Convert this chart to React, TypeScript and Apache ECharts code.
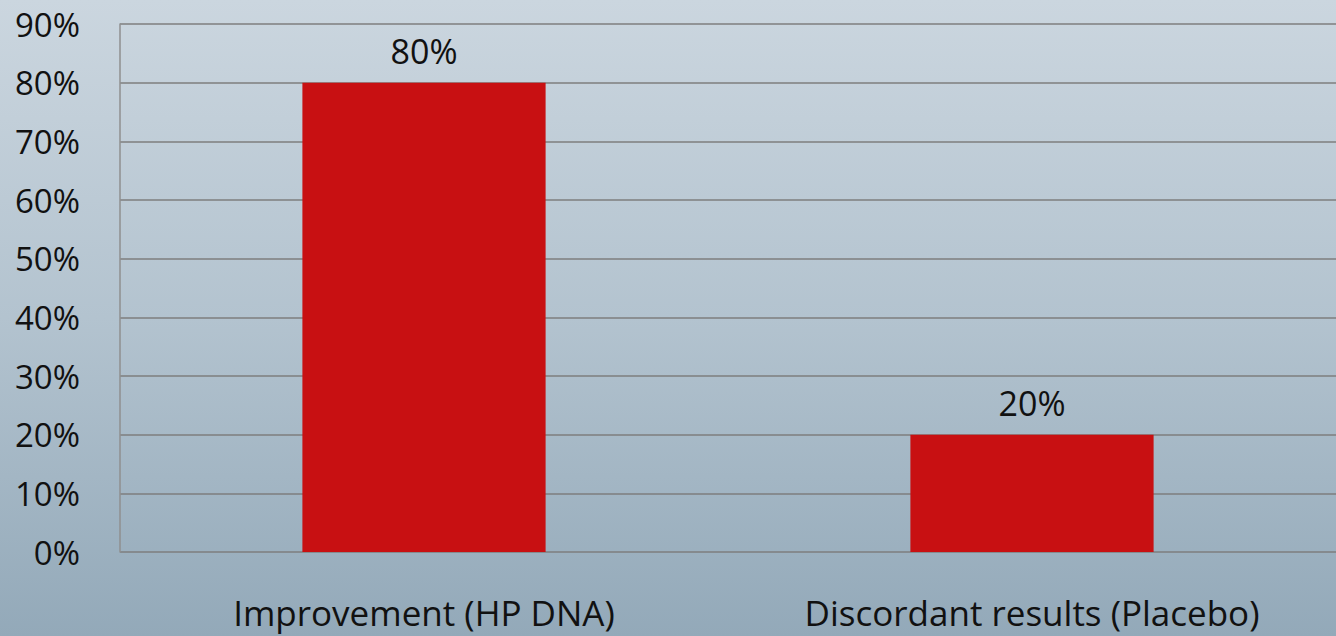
import React, { useEffect, useRef } from "react";
import * as echarts from "echarts";

const categories = ["Improvement (HP DNA)", "Discordant results (Placebo)"];
const values = [80, 20];
const yMin = 0;
const yMax = 90;
const yStep = 10;

const FONT = "Open Sans";

export default function App() {
  const ref = useRef<HTMLDivElement>(null);
  useEffect(() => {
    document.body.style.margin = "0";
    const chart = echarts.init(ref.current!, undefined, { renderer: "svg" });
    chart.setOption({
      animation: false,
      backgroundColor: {
        type: "linear",
        x: 0, y: 0, x2: 0, y2: 1,
        colorStops: [
          { offset: 0, color: "#cbd6df" },
          { offset: 0.5, color: "#b3c3cf" },
          { offset: 1, color: "#93a9b9" },
        ],
      },
      textStyle: { fontFamily: FONT },
      grid: { left: 120, right: -2, top: 24, bottom: 84, containLabel: false },
      xAxis: {
        type: "category",
        data: categories,
        axisLine: { show: false },
        axisTick: { show: false },
        axisLabel: { color: "#111", fontSize: 35, margin: 43, fontFamily: FONT },
      },
      yAxis: {
        type: "value",
        min: yMin,
        max: yMax,
        interval: yStep,
        axisLine: { show: true, lineStyle: { color: "#8f8f8f", width: 1.5 } },
        axisTick: { show: false },
        splitLine: { lineStyle: { color: "#7e7e7e", width: 1.5 } },
        axisLabel: {
          color: "#111",
          fontSize: 33,
          margin: 40,
          fontFamily: FONT,
          formatter: (v: number) => v + "%",
        },
      },
      series: [
        {
          type: "bar",
          data: values,
          barCategoryGap: "60%",
          itemStyle: { color: "#c81012" },
          label: {
            show: true,
            position: "top",
            distance: 15,
            color: "#111",
            fontSize: 34,
            fontFamily: FONT,
            formatter: (p: any) => p.value + "%",
          },
        },
      ],
    });
    return () => chart.dispose();
  }, []);
  return <div ref={ref} style={{ width: 1336, height: 636 }} />;
}
